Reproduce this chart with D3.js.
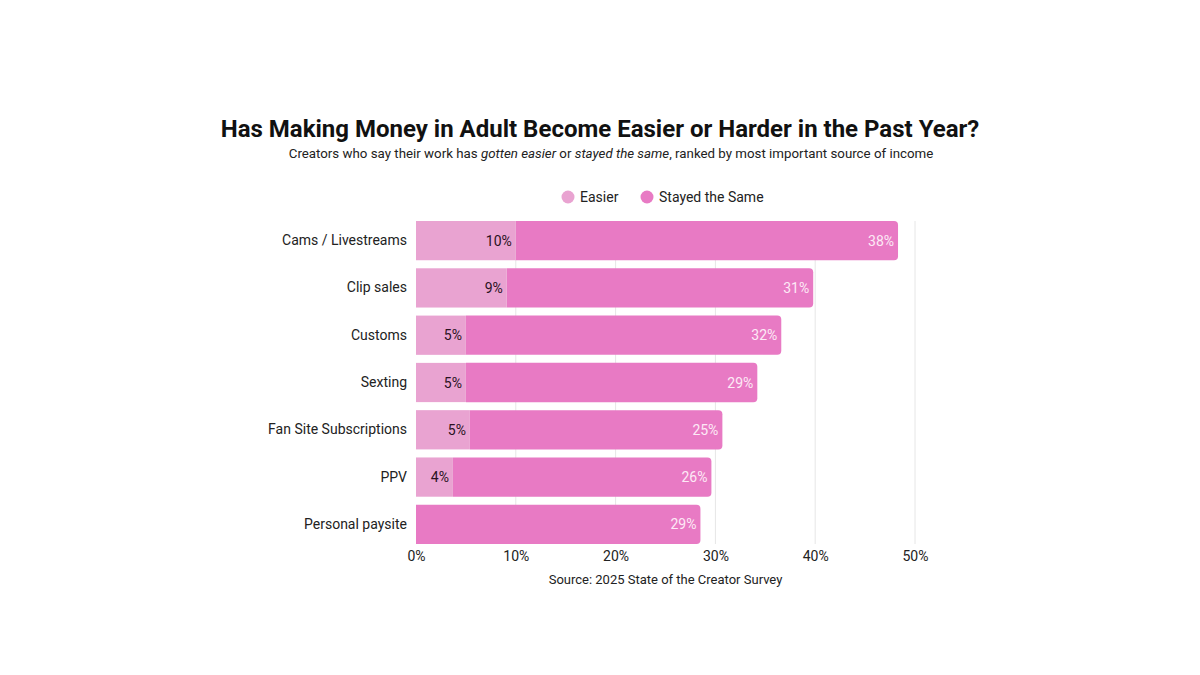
<!DOCTYPE html>
<html>
<head>
<meta charset="utf-8">
<script src="https://cdn.jsdelivr.net/npm/d3@7"></script>
<style>
  body { margin: 0; background: #fff; }
  svg { font-family: Roboto, "Open Sans", sans-serif; }
</style>
</head>
<body>
<div class="chart"></div>
<script>
const categories = ['Cams / Livestreams', 'Clip sales', 'Customs', 'Sexting', 'Fan Site Subscriptions', 'PPV', 'Personal paysite'];
const easier = [10, 9.1, 5, 5, 5.4, 3.7, 0];
const stayedSame = [38.3, 30.7, 31.6, 29.2, 25.3, 25.9, 28.5];
const xTicks = [0, 10, 20, 30, 40, 50];
const seriesNames = ['Easier', 'Stayed the Same'];
const colors = ['#e9a3d1', '#e87ac4'];

const W = 1200, H = 675;
const margin = {top: 221, right: 285, bottom: 131, left: 416};
const width = W - margin.left - margin.right;
const height = H - margin.top - margin.bottom;

const svg = d3.select('.chart').append('svg')
    .attr('width', W)
    .attr('height', H);

// title + subtitle
svg.append('text')
    .attr('x', 600).attr('y', 137)
    .attr('text-anchor', 'middle')
    .attr('font-size', 24).attr('font-weight', 700)
    .attr('fill', '#111')
    .text('Has Making Money in Adult Become Easier or Harder in the Past Year?');

const sub = svg.append('text')
    .attr('x', 611).attr('y', 158)
    .attr('text-anchor', 'middle')
    .attr('font-size', 13.3)
    .attr('fill', '#222');
sub.append('tspan').text('Creators who say their work has ');
sub.append('tspan').attr('font-style', 'italic').text('gotten easier');
sub.append('tspan').text(' or ');
sub.append('tspan').attr('font-style', 'italic').text('stayed the same');
sub.append('tspan').text(', ranked by most important source of income');

// legend
const legendX = [568, 647];
seriesNames.forEach((name, i) => {
    svg.append('circle')
        .attr('cx', legendX[i]).attr('cy', 197).attr('r', 6.5)
        .attr('fill', colors[i]);
    svg.append('text')
        .attr('x', legendX[i] + 12).attr('y', 202)
        .attr('font-size', 14).attr('fill', '#222')
        .text(name);
});

const g = svg.append('g')
    .attr('transform', 'translate(' + margin.left + ',' + margin.top + ')');

const x = d3.scaleLinear().domain([0, 50]).range([0, width]);
const y = d3.scaleBand().domain(categories).range([0, height]).paddingInner(0.17).paddingOuter(0);

// grid
g.append('g').selectAll('line')
    .data(xTicks.slice(1))
    .join('line')
    .attr('x1', d => x(d)).attr('x2', d => x(d))
    .attr('y1', 0).attr('y2', height)
    .attr('stroke', '#e6e6e6').attr('stroke-width', 1);

// x axis
const xAxis = g.append('g')
    .attr('transform', 'translate(0,' + height + ')')
    .call(d3.axisBottom(x).tickValues(xTicks).tickFormat(d => d + '%').tickSize(0).tickPadding(7));
xAxis.select('.domain').remove();
xAxis.selectAll('text').attr('font-size', 14).attr('fill', '#222').attr('font-family', 'Roboto, sans-serif');

// y axis
const yAxis = g.append('g')
    .call(d3.axisLeft(y).tickSize(0).tickPadding(9));
yAxis.select('.domain').remove();
yAxis.selectAll('text').attr('font-size', 14).attr('fill', '#222').attr('font-family', 'Roboto, sans-serif');

const rows = categories.map((c, i) => ({cat: c, easier: easier[i], same: stayedSame[i]}));
const r = 4;
const bh = y.bandwidth();

// stayed the same (full bar, rounded right end)
g.append('g').selectAll('path')
    .data(rows)
    .join('path')
    .attr('fill', colors[1])
    .attr('d', d => {
        const x0 = x(d.easier), x1 = x(d.easier + d.same), y0 = y(d.cat);
        return `M${x0},${y0}H${x1 - r}Q${x1},${y0} ${x1},${y0 + r}V${y0 + bh - r}Q${x1},${y0 + bh} ${x1 - r},${y0 + bh}H${x0}Z`;
    });

// easier
g.append('g').selectAll('rect')
    .data(rows.filter(d => d.easier > 0))
    .join('rect')
    .attr('x', 0)
    .attr('y', d => y(d.cat))
    .attr('width', d => x(d.easier))
    .attr('height', bh)
    .attr('fill', colors[0]);

// labels
g.append('g').selectAll('text')
    .data(rows.filter(d => d.easier > 0))
    .join('text')
    .attr('x', d => x(d.easier) - 4)
    .attr('y', d => y(d.cat) + bh / 2 + 5)
    .attr('text-anchor', 'end')
    .attr('font-size', 14).attr('fill', '#2a1222')
    .text(d => Math.round(d.easier) + '%');

g.append('g').selectAll('text')
    .data(rows)
    .join('text')
    .attr('x', d => x(d.easier + d.same) - 4)
    .attr('y', d => y(d.cat) + bh / 2 + 5)
    .attr('text-anchor', 'end')
    .attr('font-size', 14).attr('fill', '#fdeaf6')
    .text(d => Math.round(d.same) + '%');

// source
svg.append('text')
    .attr('x', margin.left + width / 2).attr('y', 584)
    .attr('text-anchor', 'middle')
    .attr('font-size', 13).attr('fill', '#222')
    .text('Source: 2025 State of the Creator Survey');
</script>
</body>
</html>
